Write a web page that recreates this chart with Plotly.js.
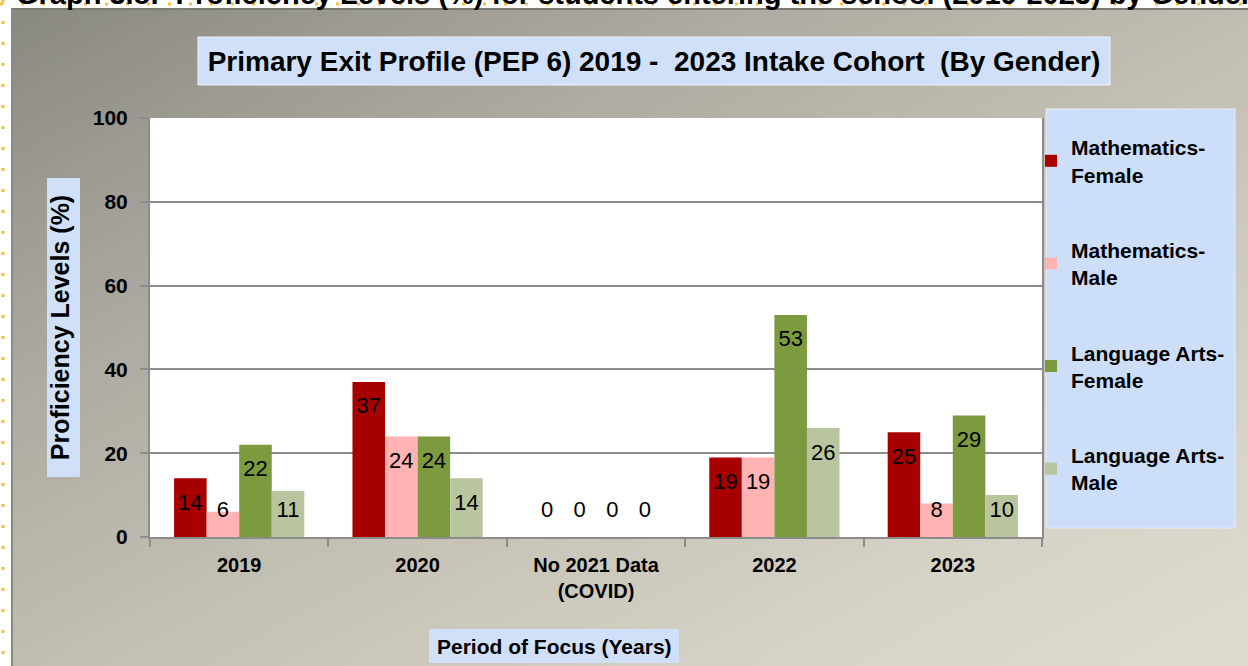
<!DOCTYPE html>
<html>
<head>
<meta charset="utf-8">
<script src="https://cdn.plot.ly/plotly-3.0.1.min.js"></script>
<style>
  html, body { margin: 0; padding: 0; background: #ffffff; width: 1248px; height: 666px; overflow: hidden; }
  #bg { position: absolute; left: 11px; top: 8px; width: 1237px; height: 658px;
        background: linear-gradient(to bottom right, #8a8980 0%, #aeaca2 30%, #c8c5b8 60%, #d8d5c9 85%, #dddacf 100%);
        border-top: 2px solid #7a7a74; border-left: 2px solid #8a8a84; box-sizing: border-box; }
  #chart { position: absolute; left: 0; top: 0; width: 1248px; height: 666px; }
</style>
</head>
<body>
<div id="bg"></div>
<div id="chart"></div>
<script>
// ---- data ----
const categories = ["2019", "2020", "No 2021 Data<br>(COVID)", "2022", "2023"];
const seriesNames = ["Mathematics-<br>Female", "Mathematics-<br>Male", "Language Arts-<br>Female", "Language Arts-<br>Male"];
const mathFemale = [14, 37, 0, 19, 25];
const mathMale   = [6, 24, 0, 19, 8];
const langFemale = [22, 24, 0, 53, 29];
const langMale   = [11, 14, 0, 26, 10];
const yTicks = [0, 20, 40, 60, 80, 100];

const seriesValues = [mathFemale, mathMale, langFemale, langMale];
const seriesColors = ["#a80000", "#ffb3b3", "#7c9a3e", "#b9c59e"];

const FONT = "'Liberation Sans', Arial, sans-serif";

const traces = [];
seriesValues.forEach((vals, i) => {
  traces.push({
    type: "bar",
    name: seriesNames[i],
    x: categories,
    y: vals,
    legendgroup: "g" + i,
    marker: { color: seriesColors[i], line: { width: 0 } },
    hoverinfo: "x+y+name"
  });
});
// value labels, grouped like the bars
seriesValues.forEach((vals, i) => {
  traces.push({
    type: "scatter",
    mode: "text",
    x: categories,
    y: vals.map(v => Math.max(v - 6.2, 6.2)),
    text: vals.map(v => String(v)),
    textposition: "middle center",
    textfont: { family: FONT, size: 22, color: "#000000" },
    showlegend: false,
    hoverinfo: "skip",
    cliponaxis: false
  });
});

// plot area in pixels: x 150..1042, y 118..537
const PL = 150, PR = 1042, PT = 118, PB = 537;
const px = v => (v - PL) / (PR - PL);
const py = v => (PB - v) / (PB - PT);

const layout = {
  width: 1248, height: 666,
  margin: { l: PL, r: 1248 - PR, t: PT, b: 666 - PB, pad: 0 },
  paper_bgcolor: "rgba(0,0,0,0)",
  plot_bgcolor: "#ffffff",
  barmode: "group",
  bargap: 0.27,
  bargroupgap: 0,
  scattermode: "group",
  scattergap: 0.27,
  font: { family: FONT, color: "#000000" },
  title: {
    text: "<b>Primary Exit Profile (PEP 6) 2019 -  2023 Intake Cohort  (By Gender)</b>",
    font: { family: FONT, size: 28, color: "#000000" },
    x: 654 / 1248, xanchor: "center", xref: "container",
    y: 1 - 61 / 666, yanchor: "middle", yref: "container"
  },
  xaxis: {
    type: "category",
    tickson: "boundaries",
    ticks: "outside", ticklen: 8, tickwidth: 2, tickcolor: "#8c8c8c",
    showline: true, linecolor: "#8c8c8c", linewidth: 2,
    showgrid: false,
    tickfont: { family: FONT, size: 20, color: "#000000", weight: "bold" },
    ticklabelstandoff: 9
  },
  yaxis: {
    range: [0, 100],
    tickvals: yTicks,
    ticktext: yTicks.map(String),
    ticks: "outside", ticklen: 8, tickwidth: 2, tickcolor: "#8c8c8c",
    showline: true, linecolor: "#8c8c8c", linewidth: 2, mirror: true,
    showgrid: true, gridcolor: "#8c8c8c", gridwidth: 2,
    zeroline: false,
    tickfont: { family: FONT, size: 21, color: "#000000", weight: "bold" },
    ticklabelstandoff: 8,
    title: {
      text: "<b>Proficiency Levels (%)</b>",
      font: { family: FONT, size: 25, color: "#000000" },
      standoff: 16
    }
  },
  showlegend: true,
  legend: {
    x: px(1031), xanchor: "left",
    y: py(127), yanchor: "top",
    bgcolor: "rgba(0,0,0,0)",
    borderwidth: 0,
    font: { family: FONT, size: 21, color: "#000000", weight: "bold" },
    tracegroupgap: 45,
    traceorder: "grouped",
    itemwidth: 30
  },
  shapes: [
    // title box
    { type: "rect", xref: "paper", yref: "paper", x0: px(198), x1: px(1110), y0: py(85), y1: py(37),
      fillcolor: "#cfe0f8", line: { color: "#f0f4fa", width: 1 }, layer: "below" },
    // y-axis title box
    { type: "rect", xref: "paper", yref: "paper", x0: px(47), x1: px(80), y0: py(477), y1: py(178),
      fillcolor: "#cfe0f8", line: { width: 0 }, layer: "below" },
    // x-axis title box
    { type: "rect", xref: "paper", yref: "paper", x0: px(429), x1: px(679), y0: py(663), y1: py(629),
      fillcolor: "#cfe0f8", line: { width: 0 }, layer: "below" },
    // legend box
    { type: "rect", xref: "paper", yref: "paper", x0: px(1046), x1: px(1235), y0: py(528), y1: py(109),
      fillcolor: "#cddff8", line: { color: "#e6eef9", width: 1 }, layer: "below" },
    // dotted frame lines
    { type: "line", xref: "paper", yref: "paper", x0: px(3), x1: px(3), y0: py(0), y1: py(666),
      line: { color: "#f3c040", width: 3, dash: "3px,18px" } },
    { type: "line", xref: "paper", yref: "paper", x0: px(0), x1: px(1248), y0: py(4), y1: py(4),
      line: { color: "#f3c040", width: 3, dash: "3px,18px" } }
  ],
  annotations: [
    { text: "<b>Period of Focus (Years)</b>", xref: "paper", yref: "paper",
      x: px(554), y: py(646), xanchor: "center", yanchor: "middle", showarrow: false,
      font: { family: FONT, size: 21, color: "#000000" } },
    { text: "<b>Graph 3.8:  Proficiency Levels (%) for students entering the school (2019-2023) by Gender</b>",
      xref: "paper", yref: "paper", x: px(14), y: py(12), xanchor: "left", yanchor: "bottom", showarrow: false,
      font: { family: FONT, size: 29, color: "#000000" } }
  ]
};

Plotly.newPlot("chart", traces, layout, { displayModeBar: false, responsive: false });
</script>
</body>
</html>
